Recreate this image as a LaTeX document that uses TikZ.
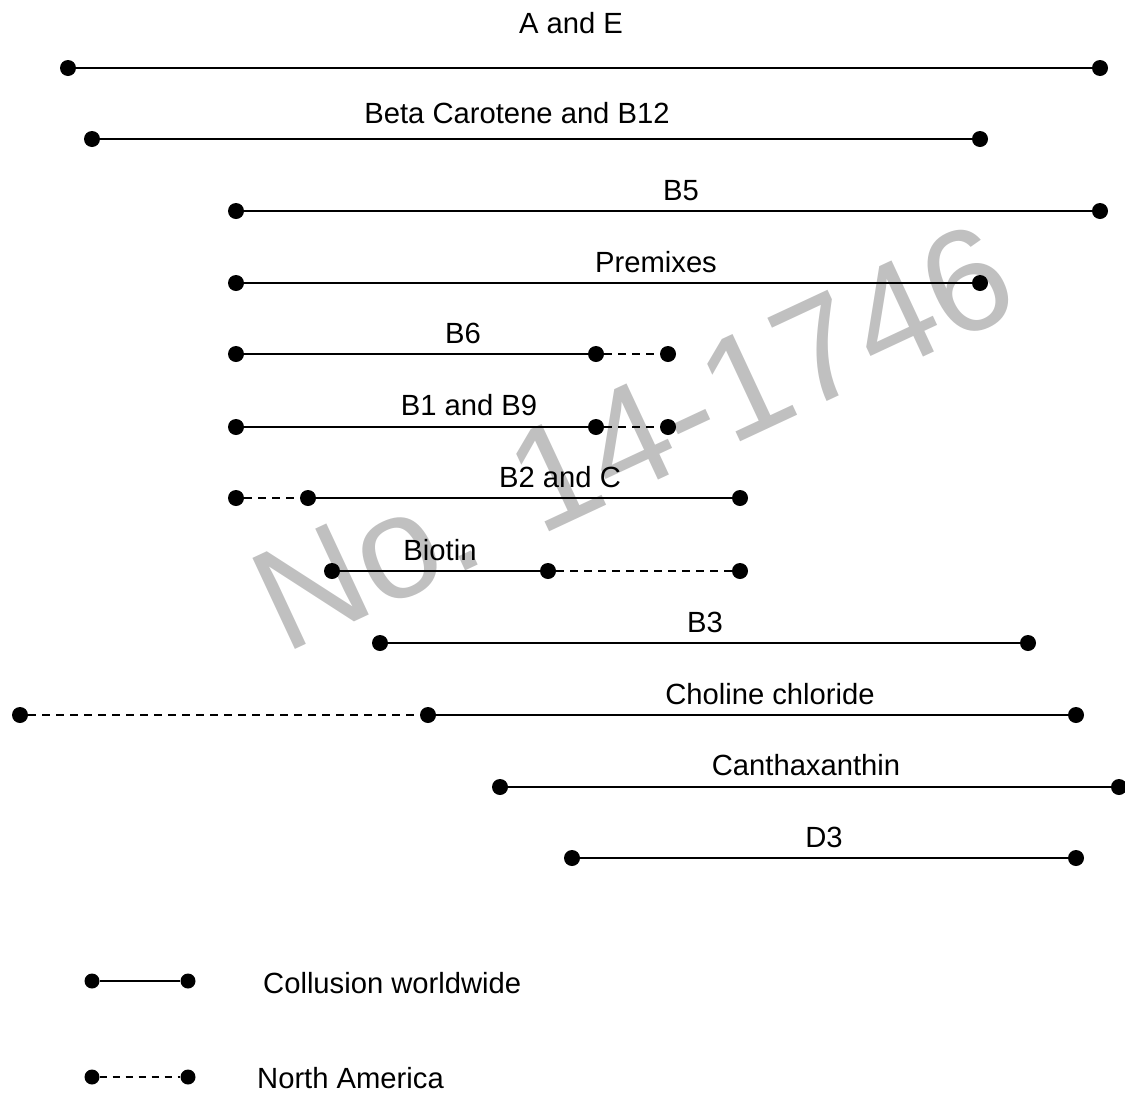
\documentclass[tikz,border=0pt]{standalone}
\usepackage{fontspec}
\setmainfont{Liberation Sans}
\begin{document}
\begin{tikzpicture}[x=1pt,y=-1pt,
  dot/.style={circle,fill=black,inner sep=0pt,minimum size=16pt},
  ldot/.style={circle,fill=black,inner sep=0pt,minimum size=15pt},
  solidln/.style={line width=2.2pt},
  dashln/.style={line width=2.2pt,dash pattern=on 8pt off 6pt},
  lsolid/.style={line width=1.6pt},
  ldash/.style={line width=1.6pt,dash pattern=on 7pt off 6pt},
  lbl/.style={font=\fontsize{29.2}{31}\selectfont,inner sep=0pt,anchor=base},
  legtxt/.style={font=\fontsize{29.2}{31}\selectfont,inner sep=0pt,anchor=base west},
  wm/.style={font=\fontsize{146}{152}\selectfont,text=wmgray,inner sep=0pt,anchor=base west,rotate=25}]
\definecolor{wmgray}{HTML}{C0C0C0}
\useasboundingbox (0,0) rectangle (1125,1093);
% watermark
\node[wm] (wm) at (284,655) {No. 14-1746};
% A and E
\node[lbl] (tAE) at (571,33) {A and E};
\node[dot] (ae1) at (68,68) {};
\node[dot] (ae2) at (1100,68) {};
\draw[solidln] (ae1) -- (ae2);
% Beta Carotene and B12
\node[lbl] (tBC) at (517,123) {Beta Carotene and B12};
\node[dot] (bc1) at (92,139) {};
\node[dot] (bc2) at (980,139) {};
\draw[solidln] (bc1) -- (bc2);
% B5
\node[lbl] (tB5) at (681,200) {B5};
\node[dot] (b51) at (236,211) {};
\node[dot] (b52) at (1100,211) {};
\draw[solidln] (b51) -- (b52);
% Premixes
\node[lbl] (tPM) at (656,272) {Premixes};
\node[dot] (pm1) at (236,283) {};
\node[dot] (pm2) at (980,283) {};
\draw[solidln] (pm1) -- (pm2);
% B6
\node[lbl] (tB6) at (463,343) {B6};
\node[dot] (b61) at (236,354) {};
\node[dot] (b62) at (596,354) {};
\node[dot] (b63) at (668,354) {};
\draw[solidln] (b61) -- (b62);
\draw[dashln] (b62) -- (b63);
% B1 and B9
\node[lbl] (tB19) at (469,415) {B1 and B9};
\node[dot] (b191) at (236,427) {};
\node[dot] (b192) at (596,427) {};
\node[dot] (b193) at (668,427) {};
\draw[solidln] (b191) -- (b192);
\draw[dashln] (b192) -- (b193);
% B2 and C
\node[lbl] (tB2C) at (560,487) {B2 and C};
\node[dot] (b2c1) at (236,498) {};
\node[dot] (b2c2) at (308,498) {};
\node[dot] (b2c3) at (740,498) {};
\draw[dashln] (b2c1) -- (b2c2);
\draw[solidln] (b2c2) -- (b2c3);
% Biotin
\node[lbl] (tBio) at (440,560) {Biotin};
\node[dot] (bio1) at (332,571) {};
\node[dot] (bio2) at (548,571) {};
\node[dot] (bio3) at (740,571) {};
\draw[solidln] (bio1) -- (bio2);
\draw[dashln] (bio2) -- (bio3);
% B3
\node[lbl] (tB3) at (705,632) {B3};
\node[dot] (b31) at (380,643) {};
\node[dot] (b32) at (1028,643) {};
\draw[solidln] (b31) -- (b32);
% Choline chloride
\node[lbl] (tCC) at (770,704) {Choline chloride};
\node[dot] (cc1) at (20,715) {};
\node[dot] (cc2) at (428,715) {};
\node[dot] (cc3) at (1076,715) {};
\draw[dashln] (cc1) -- (cc2);
\draw[solidln] (cc2) -- (cc3);
% Canthaxanthin
\node[lbl] (tCX) at (806,775) {Canthaxanthin};
\node[dot] (cx1) at (500,787) {};
\node[dot] (cx2) at (1119,787) {};
\draw[solidln] (cx1) -- (cx2);
% D3
\node[lbl] (tD3) at (824,847) {D3};
\node[dot] (d31) at (572,858) {};
\node[dot] (d32) at (1076,858) {};
\draw[solidln] (d31) -- (d32);
% legend
\node[ldot] (ls1) at (92,981) {};
\node[ldot] (ls2) at (188,981) {};
\draw[lsolid] (ls1) -- (ls2);
\node[legtxt] (tls) at (263,993) {Collusion worldwide};
\node[ldot] (ld1) at (92,1077) {};
\node[ldot] (ld2) at (188,1077) {};
\draw[ldash] (ld1) -- (ld2);
\node[legtxt] (tld) at (257,1088) {North America};
\end{tikzpicture}
\end{document}
